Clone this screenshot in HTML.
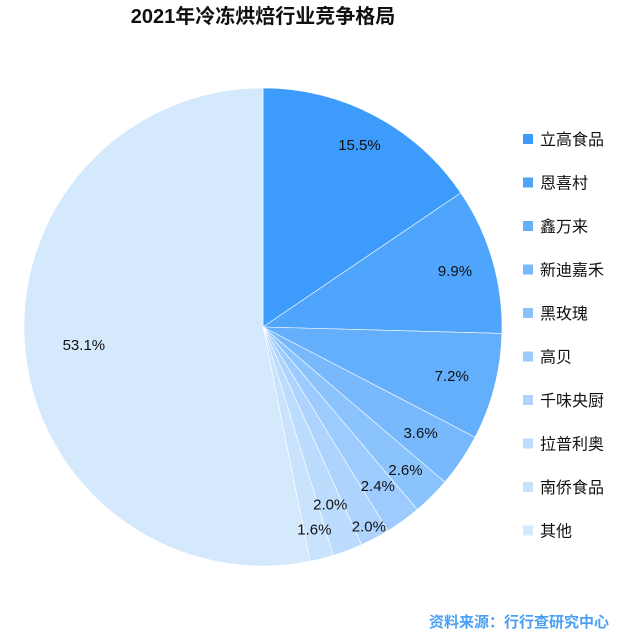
<!DOCTYPE html>
<html><head><meta charset="utf-8"><style>
body{margin:0;background:#fff;}
svg text{font-family:"Liberation Sans","Noto Sans CJK SC",sans-serif;}
</style></head><body>
<svg width="622" height="636">
<text x="263" y="23" text-anchor="middle" font-size="20" font-weight="bold" fill="#111">2021年冷冻烘焙行业竞争格局</text>
<g id="slices"></g><g id="labels"></g><g id="legend"></g>
<text x="609" y="627" text-anchor="end" font-size="15" font-weight="bold" fill="#4a9ff5">资料来源：行行查研究中心</text>
</svg>
<script>
const categories=["立高食品","恩喜村","鑫万来","新迪嘉禾","黑玫瑰","高贝","千味央厨","拉普利奥","南侨食品","其他"];
const values=[15.5,9.9,7.2,3.6,2.6,2.4,2.0,2.0,1.6,53.1];
const labels=["15.5%","9.9%","7.2%","3.6%","2.6%","2.4%","2.0%","2.0%","1.6%","53.1%"];
const colors=["#3d9bfb","#4fa5fc","#63affc","#77b9fc","#8bc3fd","#9dcbfd","#aed4fd","#bcdcfd","#c9e3fd","#d5e9fd"];
const labelRadius=[206,200,195,190,202,196,226,190,209,180];
const NS="http://www.w3.org/2000/svg",cx=263,cy=327,R=239;
const total=values.reduce((a,b)=>a+b,0);
const pt=(a,r)=>[cx+r*Math.sin(a),cy-r*Math.cos(a)];
let cum=0;
const gs=document.getElementById('slices'),gl=document.getElementById('labels'),gg=document.getElementById('legend');
values.forEach((v,i)=>{
 const a0=cum/total*2*Math.PI;cum+=v;const a1=cum/total*2*Math.PI;
 const p0=pt(a0,R),p1=pt(a1,R);
 const p=document.createElementNS(NS,'path');
 p.setAttribute('d',`M${cx},${cy}L${p0[0]},${p0[1]}A${R},${R} 0 ${a1-a0>Math.PI?1:0} 1 ${p1[0]},${p1[1]}Z`);
 p.setAttribute('fill',colors[i]);p.setAttribute('stroke','#fff');p.setAttribute('stroke-width','0.6');
 
 
 gs.appendChild(p);
 const am=(a0+a1)/2,lp=pt(am,labelRadius[i]);
 const t=document.createElementNS(NS,'text');
 t.setAttribute('x',lp[0]);t.setAttribute('y',lp[1]+5);t.setAttribute('text-anchor','middle');
 t.setAttribute('font-size','15');t.setAttribute('fill','#111');t.textContent=labels[i];
 
 
 gl.appendChild(t);
 const y=139+i*43.5;
 const g=document.createElementNS(NS,'g');
 
 
 const r=document.createElementNS(NS,'rect');
 r.setAttribute('x',523);r.setAttribute('y',y-5);r.setAttribute('width',10);r.setAttribute('height',10);r.setAttribute('fill',colors[i]);
 const lt=document.createElementNS(NS,'text');
 lt.setAttribute('x',540);lt.setAttribute('y',y+6);lt.setAttribute('font-size','16');lt.setAttribute('fill','#111');lt.textContent=categories[i];
 g.appendChild(r);g.appendChild(lt);gg.appendChild(g);
});
</script>
</body></html>
